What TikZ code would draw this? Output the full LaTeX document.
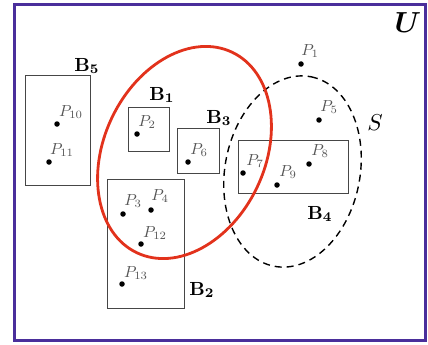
\documentclass[tikz,border=0pt]{standalone}
\usepackage{amsmath}
\usepackage{graphicx}
\definecolor{frameviolet}{RGB}{74,46,155}
\definecolor{setred}{RGB}{226,50,28}
\definecolor{boxgray}{RGB}{70,70,70}
\definecolor{labgray}{RGB}{85,85,85}
\newcommand{\ptlab}[1]{\scalebox{1.6}{$#1$}}
\newcommand{\boxlab}[1]{\scalebox{1.9}{$\mathbf{#1}$}}
\begin{document}
\begin{tikzpicture}[x=1pt,y=-1pt,
  universe/.style={draw=frameviolet,line width=3pt},
  blockbox/.style={draw=boxgray,line width=0.9pt},
  pt/.style={circle,fill=black,inner sep=0pt,minimum size=5.5pt},
  plab/.style={text=labgray,inner sep=0pt},
  blab/.style={text=black,inner sep=0pt},
  redset/.style={draw=setred,line width=2.8pt},
  sset/.style={draw=black,line width=1.4pt,dash pattern=on 7pt off 5pt}]
\useasboundingbox (0,0) rectangle (428,345);
\draw[universe] (14.5,4.5) rectangle (425,340);
\node[inner sep=0pt] (U) at (408,23) {\scalebox{2.9}{$\boldsymbol{U}$}};
% boxes
\draw[blockbox] (25,75) rectangle (90,185);
\draw[blockbox] (128,107) rectangle (169,151);
\draw[blockbox] (177.5,128) rectangle (219,173);
\draw[blockbox] (107,179) rectangle (184,308);
\draw[blockbox] (238,140) rectangle (348,193.5);
% box labels
\node[blab] (B5) at (87,66) {\boxlab{B_5}};
\node[blab] (B1) at (162,95) {\boxlab{B_1}};
\node[blab] (B3) at (219,118) {\boxlab{B_3}};
\node[blab] (B2) at (202,290) {\boxlab{B_2}};
\node[blab] (B4) at (320,214) {\boxlab{B_4}};
% S ellipse
\draw[sset,rotate around={79:(292.5,171.5)}] (292.5,171.5) ellipse [x radius=96.5, y radius=67.5];
\node[inner sep=0pt] (S) at (375,123) {\scalebox{2.3}{$S$}};
% points
\node[pt] (p1) at (301,64) {};
\node[pt] (p2) at (137,134) {};
\node[pt] (p3) at (123,214) {};
\node[pt] (p4) at (151,210) {};
\node[pt] (p5) at (319,120) {};
\node[pt] (p6) at (188,162) {};
\node[pt] (p7) at (243,173) {};
\node[pt] (p8) at (309,164) {};
\node[pt] (p9) at (277,185) {};
\node[pt] (p10) at (57,124) {};
\node[pt] (p11) at (49,162) {};
\node[pt] (p12) at (141,244) {};
\node[pt] (p13) at (122,284) {};
\node[plab] (l1) at (310,51) {\ptlab{P_1}};
\node[plab] (l2) at (147,122) {\ptlab{P_2}};
\node[plab] (l3) at (133,201) {\ptlab{P_3}};
\node[plab] (l4) at (160,196) {\ptlab{P_4}};
\node[plab] (l5) at (329,107) {\ptlab{P_5}};
\node[plab] (l6) at (199,150) {\ptlab{P_6}};
\node[plab] (l7) at (255,161) {\ptlab{P_7}};
\node[plab] (l8) at (320,151) {\ptlab{P_8}};
\node[plab] (l9) at (288,172) {\ptlab{P_9}};
\node[plab] (l10) at (71,112) {\ptlab{P_{10}}};
\node[plab] (l11) at (62,150) {\ptlab{P_{11}}};
\node[plab] (l12) at (155,233) {\ptlab{P_{12}}};
\node[plab] (l13) at (136,273) {\ptlab{P_{13}}};
% red set
\draw[redset,rotate around={64.6:(184.5,152.5)}] (184.5,152.5) ellipse [x radius=111, y radius=80.5];
\end{tikzpicture}
\end{document}
